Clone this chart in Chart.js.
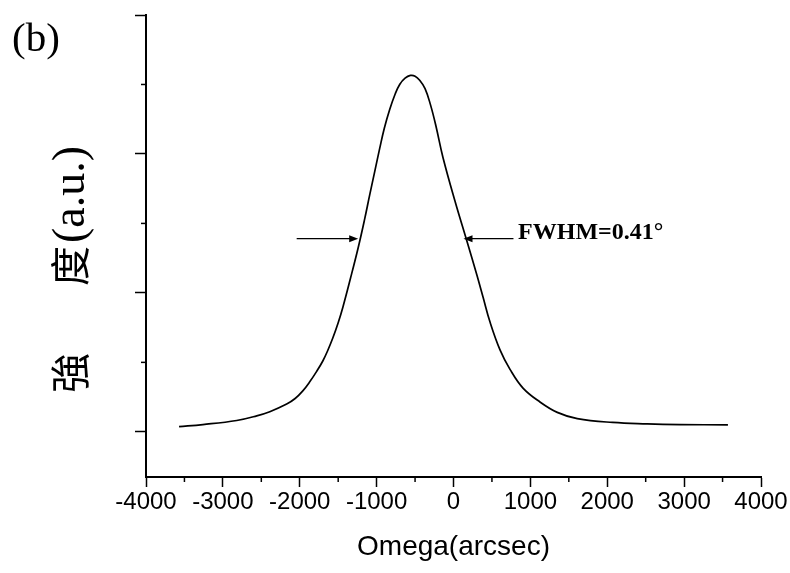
<!DOCTYPE html>
<html>
<head>
<meta charset="utf-8">
<script src="https://cdn.jsdelivr.net/npm/chart.js@4.4.1/dist/chart.umd.min.js"></script>
<style>
    body { margin: 0; background: #fff; }
    #wrap { width: 790px; height: 573px; position: relative; }
</style>
</head>
<body>
<div id="wrap"><canvas id="rockingCurve"></canvas></div>
<script>
// omega scan
const omega = [-3570, -3260, -2820, -2560, -2390, -2170, -2060, -1960, -1870, -1780,
    -1700, -1640, -1570, -1500, -1440, -1340, -1240, -1160, -1090, -1020,
    -960, -900, -830, -760, -700, -630, -560, -500, -440, -370,
    -300, -230, -137, 20, 176, 306, 384, 475, 605, 735,
    904, 1125, 1350, 1610, 2070, 2520, 2950, 3570];
const intensity = [0.076, 0.105, 0.163, 0.23, 0.29, 0.40, 0.48, 0.59, 0.72, 0.87,
    1.02, 1.16, 1.35, 1.57, 1.79, 2.21, 2.65, 3.04, 3.41, 3.77,
    4.08, 4.37, 4.64, 4.86, 5.00, 5.09, 5.13, 5.12, 5.06, 4.94,
    4.71, 4.41, 3.95, 3.32, 2.74, 2.25, 1.94, 1.58, 1.18, 0.90,
    0.63, 0.43, 0.28, 0.19, 0.135, 0.115, 0.105, 0.10];

const xTickLabels = ['-4000', '-3000', '-2000', '-1000', '0', '1000', '2000', '3000', '4000'];
const xMinorTicks = [-3500, -2500, -1500, -500, 500, 1500, 2500, 3500];
const yMinorTicks = [1, 3, 5];

// FWHM arrows (data units)
const fwhmLevel = 2.78;
const leftArrow = [-2040, -1240];
const rightArrow = [780, 130];
const fwhmText = 'FWHM=0.41°';
const fwhmTextX = 840;
const fwhmTextY = 2.86;

const panelLabel = '(b)';
const yTitleA = '強';
const yTitleB = '度';
const yTitleC = '(a.u.)';

function drawArrow(ctx, x1, x2, y) {
    const dir = x2 > x1 ? 1 : -1;
    ctx.beginPath();
    ctx.moveTo(x1, y);
    ctx.lineTo(x2 - dir * 6, y);
    ctx.stroke();
    ctx.beginPath();
    ctx.moveTo(x2, y);
    ctx.lineTo(x2 - dir * 9, y - 3.5);
    ctx.lineTo(x2 - dir * 9, y + 3.5);
    ctx.closePath();
    ctx.fill();
}

const extrasPlugin = {
    id: 'extras',
    afterDraw(chart) {
        const ctx = chart.ctx;
        const xs = chart.scales.x;
        const ys = chart.scales.y;
        const area = chart.chartArea;
        ctx.save();
        ctx.strokeStyle = '#000';
        ctx.fillStyle = '#000';

        // minor ticks
        ctx.lineWidth = 1.5;
        xMinorTicks.forEach(v => {
            const px = xs.getPixelForValue(v);
            ctx.beginPath();
            ctx.moveTo(px, area.bottom);
            ctx.lineTo(px, area.bottom + 5);
            ctx.stroke();
        });
        yMinorTicks.forEach(v => {
            const py = ys.getPixelForValue(v);
            ctx.beginPath();
            ctx.moveTo(area.left, py);
            ctx.lineTo(area.left - 5, py);
            ctx.stroke();
        });

        // FWHM arrows and label
        ctx.lineWidth = 1.3;
        const ay = ys.getPixelForValue(fwhmLevel);
        drawArrow(ctx, xs.getPixelForValue(leftArrow[0]), xs.getPixelForValue(leftArrow[1]), ay);
        drawArrow(ctx, xs.getPixelForValue(rightArrow[0]), xs.getPixelForValue(rightArrow[1]), ay);
        ctx.font = 'bold 24px "Liberation Serif", serif';
        ctx.textAlign = 'left';
        ctx.textBaseline = 'middle';
        ctx.fillText(fwhmText, xs.getPixelForValue(fwhmTextX), ys.getPixelForValue(fwhmTextY));

        // panel label
        ctx.font = '41px "Liberation Serif", serif';
        ctx.textBaseline = 'alphabetic';
        ctx.fillText(panelLabel, 12, 51);

        // y axis title (rotated)
        ctx.translate(70, 0);
        ctx.rotate(-Math.PI / 2);
        ctx.textBaseline = 'middle';
        ctx.textAlign = 'left';
        ctx.font = '40px "Noto Sans CJK TC", sans-serif';
        ctx.fillText(yTitleA, -393, 0);
        ctx.fillText(yTitleB, -286, 0);
        ctx.font = '46px "Liberation Serif", serif';
        ctx.fillText(yTitleC, -243, 2);
        ctx.restore();
    }
};

const ctx = document.getElementById('rockingCurve').getContext('2d');
new Chart(ctx, {
    type: 'line',
    data: {
        datasets: [{
            data: omega.map((x, i) => ({ x: x, y: intensity[i] })),
            borderColor: '#000',
            borderWidth: 1.7,
            pointRadius: 0,
            fill: false,
            tension: 0.4
        }]
    },
    options: {
        responsive: true,
        maintainAspectRatio: false,
        animation: false,
        layout: { padding: { top: 15, right: 29, left: 0, bottom: 0 } },
        plugins: {
            legend: { display: false },
            tooltip: { enabled: false }
        },
        scales: {
            x: {
                type: 'linear',
                min: -4000,
                max: 4000,
                ticks: {
                    stepSize: 1000,
                    color: '#000',
                    padding: 1,
                    maxRotation: 0,
                    font: { family: '"Liberation Sans", Arial, sans-serif', size: 24 },
                    callback: (v, i) => xTickLabels[i]
                },
                grid: {
                    drawOnChartArea: false,
                    tickLength: 10,
                    tickColor: '#000',
                    tickWidth: 1.5
                },
                border: { color: '#000', width: 2 },
                title: {
                    display: true,
                    text: 'Omega(arcsec)',
                    color: '#000',
                    font: { family: '"Liberation Sans", Arial, sans-serif', size: 28 },
                    padding: { top: 0, bottom: 9 }
                },
                afterFit(scale) { scale.height = 96; }
            },
            y: {
                min: -0.65,
                max: 6,
                ticks: { stepSize: 2, display: false, includeBounds: false },
                grid: {
                    drawOnChartArea: false,
                    tickLength: 11,
                    tickColor: '#000',
                    tickWidth: 1.5
                },
                border: { color: '#000', width: 2 },
                afterFit(scale) { scale.width = 146; }
            }
        }
    },
    plugins: [extrasPlugin]
});
</script>
</body>
</html>
